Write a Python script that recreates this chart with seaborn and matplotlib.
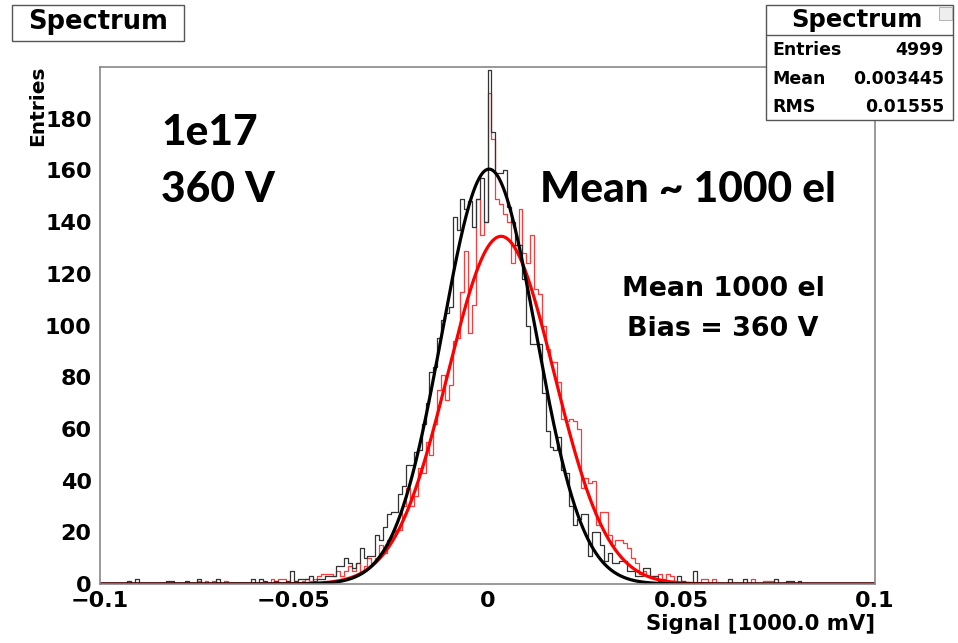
import numpy as np
import pandas as pd
import matplotlib
matplotlib.use("Agg")
import matplotlib.pyplot as plt
import matplotlib.patches as mpatches
import seaborn as sns

# ---------------- data ----------------
X_MIN, X_MAX, N_BINS = -0.1, 0.1, 200

# black histogram counts, bins of width 0.001 from -0.1 to 0.1
black_counts = [
    0, 0, 0, 0, 0, 0, 0, 1, 0, 2,
    0, 0, 0, 0, 0, 0, 0, 1, 1, 0,
    0, 0, 1, 0, 0, 2, 0, 0, 0, 0,
    2, 0, 0, 0, 0, 0, 0, 0, 0, 2,
    0, 2, 1, 0, 0, 1, 0, 0, 1, 5,
    1, 2, 2, 2, 3, 1, 2, 2, 3, 3,
    3, 7, 7, 10, 8, 6, 8, 14, 10, 11,
    11, 19, 17, 22, 27, 28, 28, 35, 38, 46,
    46, 51, 52, 62, 70, 82, 84, 95, 102, 105,
    107, 142, 137, 149, 145, 148, 138, 149, 157, 140,
    199, 175, 159, 159, 160, 146, 140, 131, 131, 118,
    100, 93, 93, 93, 74, 59, 53, 52, 57, 44,
    43, 30, 23, 25, 27, 27, 11, 20, 20, 15,
    9, 12, 8, 8, 9, 9, 5, 5, 3, 3,
    6, 6, 3, 3, 1, 1, 0, 1, 0, 3,
    1, 0, 0, 5, 0, 0, 0, 0, 0, 0,
    0, 0, 2, 0, 0, 0, 2, 0, 0, 0,
    0, 0, 0, 0, 2, 0, 0, 1, 1, 0,
    1, 0, 0, 0, 0, 0, 0, 0, 0, 0,
    0, 0, 0, 0, 0, 0, 0, 0, 0, 0,
]

# red histogram counts, same binning
red_counts = [
    0, 0, 0, 0, 0, 0, 0, 0, 0, 0,
    0, 0, 0, 0, 0, 0, 0, 0, 0, 0,
    0, 0, 0, 0, 0, 1, 0, 1, 0, 1,
    0, 0, 1, 0, 0, 0, 0, 0, 0, 0,
    0, 0, 0, 0, 2, 1, 2, 2, 1, 0,
    1, 0, 1, 2, 1, 2, 3, 4, 4, 4,
    3, 5, 3, 5, 7, 5, 8, 5, 7, 10,
    8, 10, 15, 12, 17, 18, 21, 21, 30, 37,
    30, 34, 45, 43, 55, 50, 62, 75, 81, 71,
    77, 94, 95, 113, 129, 97, 108, 149, 135, 140,
    190, 172, 149, 147, 143, 140, 124, 131, 145, 128,
    124, 135, 114, 112, 100, 91, 86, 86, 78, 64,
    63, 64, 63, 60, 37, 41, 39, 40, 23, 28,
    28, 19, 15, 17, 17, 16, 14, 10, 8, 4,
    5, 3, 3, 3, 4, 2, 4, 3, 1, 0,
    1, 0, 0, 0, 0, 2, 2, 0, 2, 0,
    0, 0, 0, 0, 0, 0, 0, 0, 2, 0,
    0, 1, 1, 1, 0, 0, 0, 0, 0, 0,
    0, 0, 0, 0, 0, 0, 0, 0, 0, 0,
    0, 0, 0, 0, 0, 0, 0, 0, 0, 0,
]

# Gaussian fit parameters (amplitude, mean, sigma)
black_fit = (160.5, 0.0004, 0.0121)
red_fit = (134.5, 0.0035, 0.0137)

x_tick_vals = [-0.1, -0.05, 0, 0.05, 0.1]
x_tick_labels = ["\u22120.1", "\u22120.05", "0", "0.05", "0.1"]
y_tick_vals = [0, 20, 40, 60, 80, 100, 120, 140, 160, 180]
y_tick_labels = ["0", "20", "40", "60", "80", "100", "120", "140", "160", "180"]

stats_names = ["Entries", "Mean", "RMS"]
stats_values = ["4999", "0.003445", "0.01555"]

# ---------------- figure ----------------
sns.set_theme(style="white")
ROOT_FONT = ["DejaVu Sans"]
plt.rcParams["font.family"] = ROOT_FONT
plt.rcParams["font.weight"] = "bold"
plt.rcParams["text.color"] = "black"
plt.rcParams["axes.labelcolor"] = "black"
plt.rcParams["xtick.color"] = "black"
plt.rcParams["ytick.color"] = "black"

W, H = 958, 643
fig = plt.figure(figsize=(W / 100, H / 100), dpi=100)
fig.patch.set_facecolor("white")


def fx(x):
    return x / W


def fy(y):
    return 1 - y / H


ax = fig.add_axes([fx(100), fy(584), (875 - 100) / W, (584 - 67) / H])
ax.set_facecolor("white")

bin_w = (X_MAX - X_MIN) / N_BINS
centers = X_MIN + bin_w * (np.arange(N_BINS) + 0.5)
df_red = pd.DataFrame({"signal": centers, "counts": np.asarray(red_counts, float)})
df_black = pd.DataFrame({"signal": centers, "counts": np.asarray(black_counts, float)})

sns.histplot(data=df_red, x="signal", weights="counts", binwidth=bin_w,
             binrange=(X_MIN, X_MAX), element="step", fill=False,
             color="#ff3a3a", linewidth=0.9, ax=ax)
sns.histplot(data=df_black, x="signal", weights="counts", binwidth=bin_w,
             binrange=(X_MIN, X_MAX), element="step", fill=False,
             color="#333333", linewidth=0.9, ax=ax)

xs = np.linspace(X_MIN, X_MAX, 1201)
for (amp, mu, sig), col in [(red_fit, "#ff0000"), (black_fit, "#000000")]:
    ys = amp * np.exp(-0.5 * ((xs - mu) / sig) ** 2)
    sns.lineplot(x=xs, y=ys, color=col, linewidth=2.3, ax=ax)

ax.set_xlim(X_MIN, X_MAX)
ax.set_ylim(0, 200)
ax.set_xlabel("")
ax.set_ylabel("")

ax.set_xticks(x_tick_vals)
ax.set_xticklabels(x_tick_labels)
ax.set_xticks(np.round(np.arange(-0.1, 0.1001, 0.01), 3), minor=True)
ax.set_yticks(y_tick_vals)
ax.set_yticklabels(y_tick_labels)
ax.set_yticks(np.arange(0, 201, 4), minor=True)

tick_col = "#555555"
ax.tick_params(axis="x", which="major", direction="in", length=10.8, width=1.0,
               color=tick_col, labelcolor="black", labelsize=16, pad=5, top=False)
ax.tick_params(axis="x", which="minor", direction="in", length=5.4, width=1.0,
               color=tick_col, top=False)
ax.tick_params(axis="y", which="major", direction="in", length=16.5, width=1.0,
               color=tick_col, labelcolor="black", labelsize=16, pad=6, right=False)
ax.tick_params(axis="y", which="minor", direction="in", length=8.3, width=1.0,
               color=tick_col, right=False)
for lab in ax.get_xticklabels() + ax.get_yticklabels():
    lab.set_fontweight("bold")
    lab.set_family(ROOT_FONT)

for s in ax.spines.values():
    s.set_color("#888888")
    s.set_linewidth(1.2)

# axis titles
fig.text(fx(875), fy(624), "Signal [1000.0 mV]", ha="right", va="center",
         fontsize=15.3, fontweight="bold", color="black")
fig.text(fx(38), fy(66), "Entries", ha="center", va="top", rotation=90,
         fontsize=14.5, fontweight="bold", color="black")

# title box
fig.patches.append(mpatches.Rectangle((fx(12), fy(41)), (184 - 12) / W, (41 - 5) / H,
                                      transform=fig.transFigure, facecolor="white",
                                      edgecolor="#555555", linewidth=1.0))
fig.text(fx(98), fy(22), "Spectrum", ha="center", va="center", fontsize=18.5,
         fontweight="bold", color="black")

# stats box
fig.patches.append(mpatches.Rectangle((fx(766), fy(120)), (953 - 766) / W, (120 - 5) / H,
                                      transform=fig.transFigure, facecolor="white",
                                      edgecolor="#555555", linewidth=1.0, zorder=5))
fig.add_artist(plt.Line2D([fx(766), fx(953)], [fy(35), fy(35)], color="#555555",
                          linewidth=1.0, transform=fig.transFigure, zorder=6))
fig.patches.append(mpatches.Rectangle((fx(939), fy(20)), 13 / W, 13 / H,
                                      transform=fig.transFigure, facecolor="#eeeeee",
                                      edgecolor="#aaaaaa", linewidth=0.6, zorder=6))
fig.text(fx(857), fy(20), "Spectrum", ha="center", va="center", fontsize=17.5,
         fontweight="bold", zorder=7, color="black")
for i, (nm, val) in enumerate(zip(stats_names, stats_values)):
    yy = [50, 79, 107][i]
    fig.text(fx(772), fy(yy), nm, ha="left", va="center", fontsize=12.5,
             fontweight="bold", zorder=7, color="black")
    fig.text(fx(944), fy(yy), val, ha="right", va="center", fontsize=12.5,
             fontweight="bold", zorder=7, color="black")

# annotations
big = dict(fontsize=30.5, fontweight=900, family=["Lato", "DejaVu Sans"], color="black")
fig.text(fx(161), fy(133), "1e17", ha="left", va="center", **big)
fig.text(fx(161), fy(190), "360 V", ha="left", va="center", **big)
fig.text(fx(540), fy(190), "Mean ~ 1000 el", ha="left", va="center", **big)
fig.text(fx(622), fy(289), "Mean 1000 el", ha="left", va="center", fontsize=19.4,
         fontweight="bold", color="black")
fig.text(fx(627), fy(329), "Bias = 360 V", ha="left", va="center", fontsize=19.4,
         fontweight="bold", color="black")

fig.savefig("out.png", dpi=100, facecolor="white")
